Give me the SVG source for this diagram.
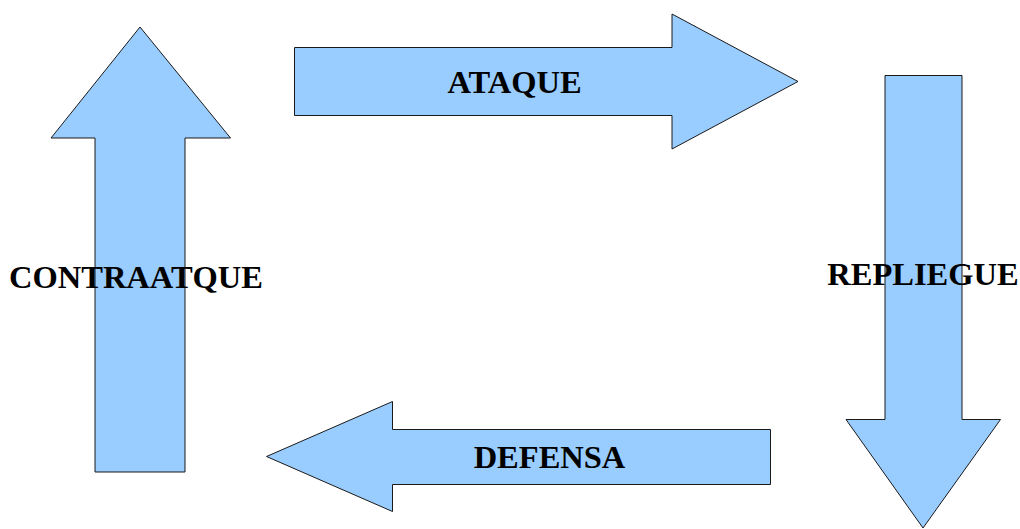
<svg xmlns="http://www.w3.org/2000/svg" width="1020" height="529" viewBox="0 0 1020 529">
<style>
.arrow{fill:#99ccff;stroke:#1a1a1a;stroke-width:1;stroke-linejoin:miter}
.lbl{font-family:"Liberation Serif","Times New Roman",serif;font-weight:bold;font-size:32.5px;fill:#000;text-anchor:middle}
</style>
<rect width="1020" height="529" fill="#fff"/>
<g id="connectors"></g>
<g id="contraataque">
<polygon class="arrow" points="140,27 230.5,138 185,138 185,472 95,472 95,138 51,138"/>
<text class="lbl" x="136" y="288">CONTRAATQUE</text>
</g>
<g id="ataque">
<polygon class="arrow" points="294.5,47.5 672,47.5 672,14 798,81.5 672,149 672,115.5 294.5,115.5"/>
<text class="lbl" x="514.5" y="93">ATAQUE</text>
</g>
<g id="repliegue">
<polygon class="arrow" points="885,75.5 962,75.5 962,419.5 1000.5,419.5 923,528 846,419.5 885,419.5"/>
<text class="lbl" x="923" y="285">REPLIEGUE</text>
</g>
<g id="defensa">
<polygon class="arrow" points="770.5,429.5 770.5,484.5 392.5,484.5 392.5,511.5 266.5,456.5 392.5,401.5 392.5,429.5"/>
<text class="lbl" x="549.5" y="468">DEFENSA</text>
</g>
</svg>
